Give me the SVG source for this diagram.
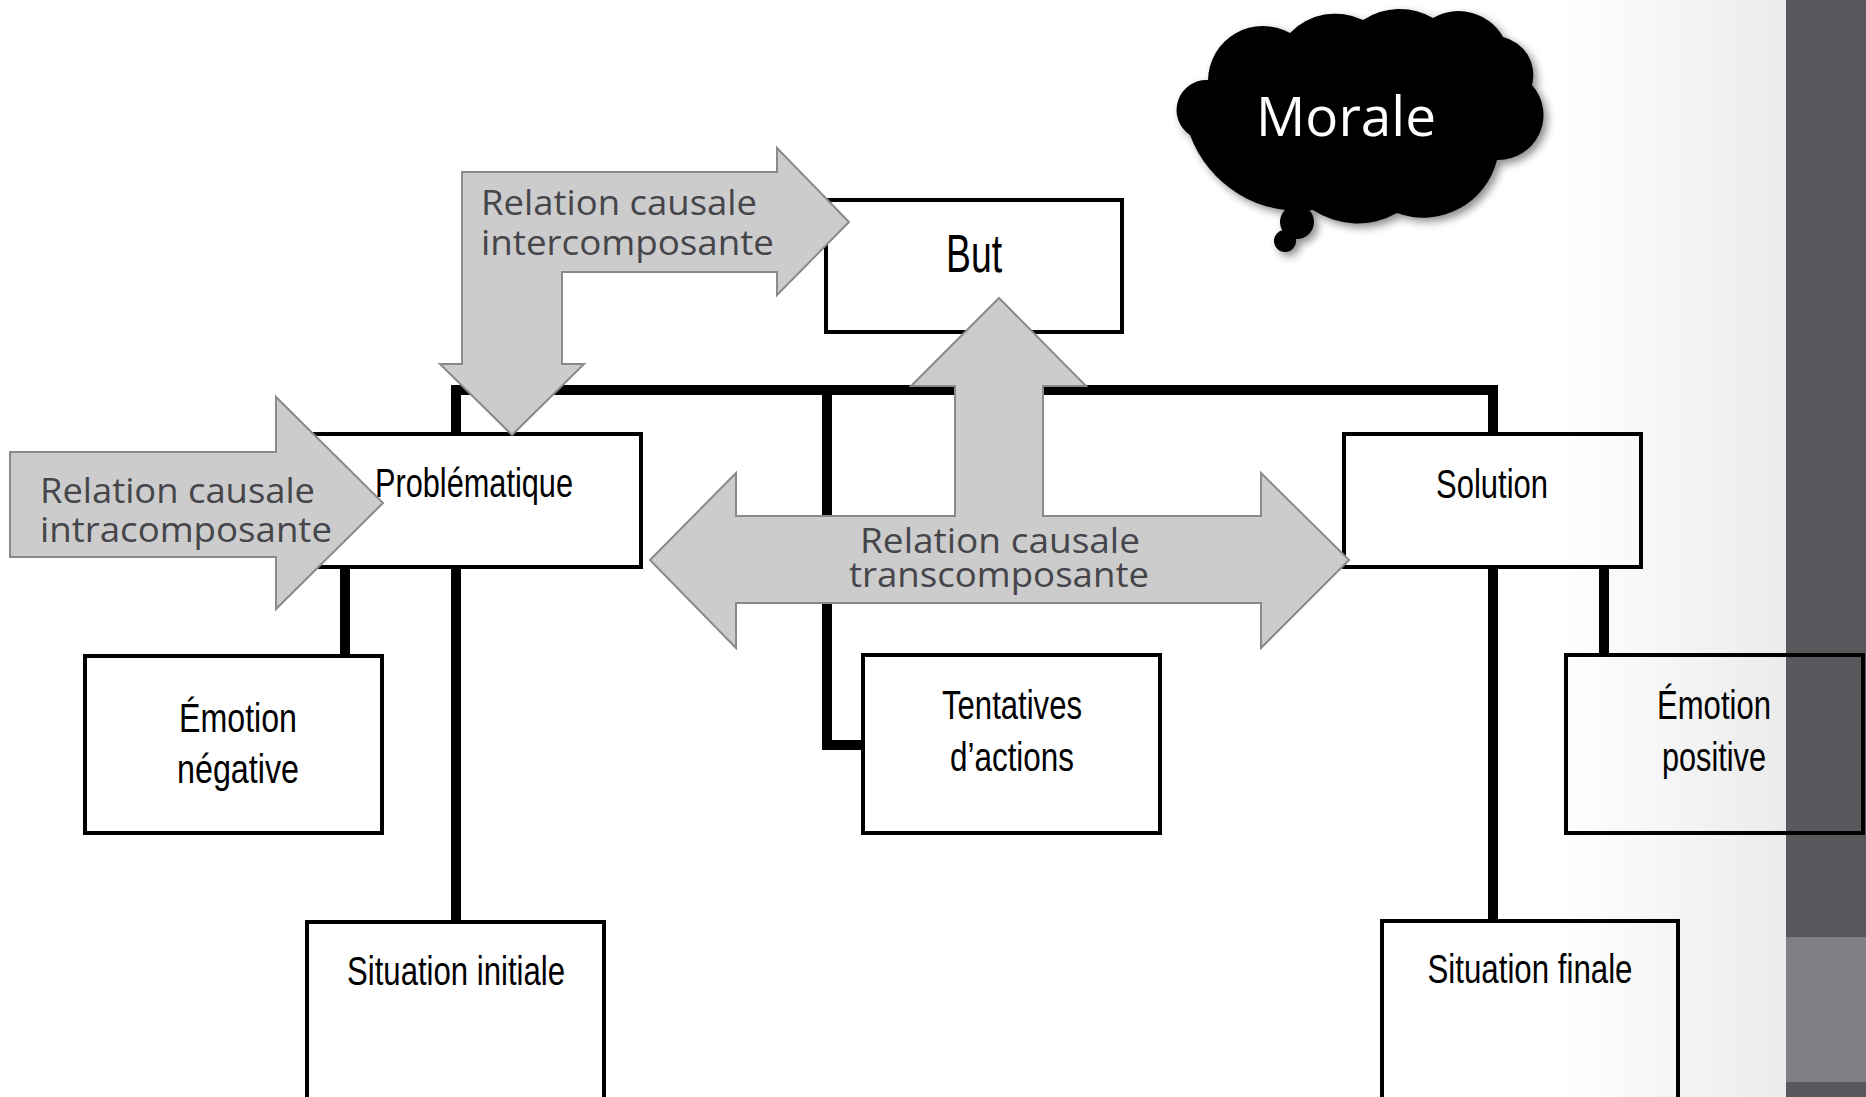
<svg xmlns="http://www.w3.org/2000/svg" width="1866" height="1097" viewBox="0 0 1866 1097">
  <defs>
    <linearGradient id="fade" x1="0" y1="0" x2="1" y2="0">
      <stop offset="0" stop-color="#ffffff"/>
      <stop offset="1" stop-color="#ebebeb"/>
    </linearGradient>
    <filter id="shadow" x="-10%" y="-10%" width="130%" height="140%">
      <feDropShadow dx="4" dy="4" stdDeviation="4" flood-color="#000" flood-opacity="0.45"/>
    </filter>
    <style>
      .box { fill: none; stroke: #000; stroke-width: 4; }
      .conn { fill: none; stroke: #000; stroke-width: 10; stroke-linejoin: miter; stroke-linecap: butt; }
      .arrow { fill: #cccccc; stroke: #8a8a8a; stroke-width: 2; stroke-linejoin: miter; }
      .lbl { font-family: "Liberation Sans Narrow", "Liberation Sans", Arial, sans-serif; font-size: 40px; fill: #000; text-anchor: middle; }
      .rel { font-family: "Open Sans", "Noto Sans", sans-serif; font-size: 35px; fill: #45454a; }
    </style>
  </defs>

  <!-- background -->
  <rect x="0" y="0" width="1866" height="1097" fill="#ffffff"/>
  <rect x="1560" y="0" width="226" height="1097" fill="url(#fade)"/>
  <rect x="1786" y="0" width="80" height="1097" fill="#59585d"/>
  <rect x="1786" y="937" width="80" height="145" fill="#807f84"/>

  <!-- connectors -->
  <g id="connectors">
    <path class="conn" d="M456,434 V390 H1493 V434"/>
    <path class="conn" d="M827,390 V745 H863"/>
    <path class="conn" d="M456,568 V922"/>
    <path class="conn" d="M345,568 V656"/>
    <path class="conn" d="M1493,568 V921"/>
    <path class="conn" d="M1604,568 V655"/>
  </g>

  <!-- nodes -->
  <g id="but">
    <rect class="box" x="826" y="200" width="296" height="132"/>
    <text class="lbl" x="974" y="272" style="font-size:53px" textLength="56" lengthAdjust="spacingAndGlyphs">But</text>
  </g>
  <g id="problematique">
    <rect class="box" x="310" y="434" width="331" height="133"/>
    <text class="lbl" x="474" y="497" textLength="198" lengthAdjust="spacingAndGlyphs">Problématique</text>
  </g>
  <g id="solution">
    <rect class="box" x="1344" y="434" width="297" height="133"/>
    <text class="lbl" x="1492" y="498" textLength="112" lengthAdjust="spacingAndGlyphs">Solution</text>
  </g>
  <g id="emotion-negative">
    <rect class="box" x="85" y="656" width="297" height="177"/>
    <text class="lbl" x="238" y="732" textLength="118" lengthAdjust="spacingAndGlyphs">Émotion</text>
    <text class="lbl" x="238" y="783" textLength="122" lengthAdjust="spacingAndGlyphs">négative</text>
  </g>
  <g id="tentatives">
    <rect class="box" x="863" y="655" width="297" height="178"/>
    <text class="lbl" x="1012" y="719" textLength="140" lengthAdjust="spacingAndGlyphs">Tentatives</text>
    <text class="lbl" x="1012" y="771" textLength="124" lengthAdjust="spacingAndGlyphs">d’actions</text>
  </g>
  <g id="emotion-positive">
    <rect class="box" x="1566" y="655" width="297" height="178"/>
    <text class="lbl" x="1714" y="719" textLength="114" lengthAdjust="spacingAndGlyphs">Émotion</text>
    <text class="lbl" x="1714" y="771" textLength="104" lengthAdjust="spacingAndGlyphs">positive</text>
  </g>
  <g id="situation-initiale">
    <rect class="box" x="307" y="922" width="297" height="200"/>
    <text class="lbl" x="456" y="985" textLength="218" lengthAdjust="spacingAndGlyphs">Situation initiale</text>
  </g>
  <g id="situation-finale">
    <rect class="box" x="1382" y="921" width="296" height="200"/>
    <text class="lbl" x="1530" y="983" textLength="205" lengthAdjust="spacingAndGlyphs">Situation finale</text>
  </g>

  <!-- relation arrows -->
  <g id="relation-intra">
    <polygon class="arrow" points="10,452 276,452 276,397 383,503 276,609 276,557 10,557"/>
    <text class="rel" x="40" y="503" textLength="275" lengthAdjust="spacingAndGlyphs">Relation causale</text>
    <text class="rel" x="40" y="542" textLength="292" lengthAdjust="spacingAndGlyphs">intracomposante</text>
  </g>
  <g id="relation-inter">
    <polygon class="arrow" points="462,172 777,172 777,148 849,222 777,295 777,272 562,272 562,364 584,364 512,435 440,364 462,364"/>
    <text class="rel" x="481" y="215" textLength="276" lengthAdjust="spacingAndGlyphs">Relation causale</text>
    <text class="rel" x="481" y="255" textLength="293" lengthAdjust="spacingAndGlyphs">intercomposante</text>
  </g>
  <g id="relation-trans">
    <polygon class="arrow" points="650,560 736,473 736,516 955,516 955,386 911,386 999,298 1086,386 1043,386 1043,516 1261,516 1261,473 1349,560 1261,648 1261,603 736,603 736,648"/>
    <text class="rel" x="1000" y="553" text-anchor="middle" textLength="280" lengthAdjust="spacingAndGlyphs">Relation causale</text>
    <text class="rel" x="999" y="587" text-anchor="middle" textLength="300" lengthAdjust="spacingAndGlyphs">transcomposante</text>
  </g>

  <!-- morale cloud -->
  <g id="morale">
    <g filter="url(#shadow)" fill="#000">
      <path d="M1190,135 A30,30 0 0,1 1208,80 A55,55 0 0,1 1290,33 A63,63 0 0,1 1363,20 A66,66 0 0,1 1433,18 A51,51 0 0,1 1503,37 A39,39 0 0,1 1532,85 A45,45 0 0,1 1497,160 A76,76 0 0,1 1397,213 A80,80 0 0,1 1313,210 A116,116 0 0,1 1190,135 Z"/>
      <circle cx="1297" cy="222" r="17"/>
      <circle cx="1285" cy="241" r="11"/>
    </g>
    <text x="1346" y="136" text-anchor="middle" font-family="'Open Sans', 'Noto Sans', sans-serif" font-size="55" fill="#ffffff" textLength="180" lengthAdjust="spacingAndGlyphs">Morale</text>
  </g>
</svg>
